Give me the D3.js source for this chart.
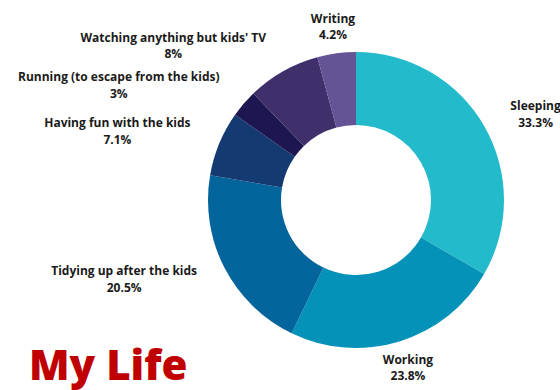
<!DOCTYPE html>
<html>
<head>
<meta charset="utf-8">
<script src="https://cdn.jsdelivr.net/npm/d3@7"></script>
<style>
  html, body { margin: 0; padding: 0; background: #fff; }
  svg { display: block; font-family: "Open Sans", sans-serif; }
</style>
</head>
<body>
<div id="main"></div>
<script>
const categories = [
  "Sleeping",
  "Working",
  "Tidying up after the kids",
  "Having fun with the kids",
  "Running (to escape from the kids)",
  "Watching anything but kids' TV",
  "Writing"
];
const values = [33.3, 23.8, 20.5, 7.1, 3, 8, 4.2];
const colors = ["#23bbcb", "#0592b8", "#04649c", "#143a72", "#1e1650", "#3f2f6b", "#655495"];
// label nudges away from the plain radial spot, to keep them apart like the original
const labelNudge = [[15, 5], [-4, -18], [-63, -12], [-63, 0], [-93, 5], [-89, 7], [2, 11]];

const width = 560;
const height = 390;
const cx = 356;
const cy = 200;
const outerR = 148;
const innerR = 75;
const labelR = 190;

const data = categories.map((c, i) => ({ name: c, value: values[i], color: colors[i], nudge: labelNudge[i] }));

const svg = d3.select("#main").append("svg").attr("width", width).attr("height", height);

const pie = d3.pie().value((d) => d.value).sort(null);
const arc = d3.arc().innerRadius(innerR).outerRadius(outerR);
const arcs = pie(data);

const g = svg.append("g").attr("transform", `translate(${cx}, ${cy})`);

g.selectAll("path")
  .data(arcs)
  .enter()
  .append("path")
  .attr("d", arc)
  .attr("fill", (d) => d.data.color);

const labels = g.selectAll("text.label")
  .data(arcs)
  .enter()
  .append("text")
  .attr("class", "label")
  .attr("text-anchor", "middle")
  .attr("font-size", 12)
  .attr("font-weight", 700)
  .attr("fill", "#1a1a1a")
  .attr("transform", (d) => {
    const a = (d.startAngle + d.endAngle) / 2;
    const x = labelR * Math.sin(a) + d.data.nudge[0];
    const y = -labelR * Math.cos(a) + d.data.nudge[1];
    return `translate(${x}, ${y})`;
  });

labels.append("tspan").attr("x", 0).attr("y", 0).text((d) => d.data.name);
labels.append("tspan").attr("x", 0).attr("y", 16.5).text((d) => `${d.data.value}%`);

svg.append("text")
  .attr("x", 29)
  .attr("y", 380)
  .attr("font-size", 42)
  .attr("font-weight", 800)
  .attr("fill", "#c00000")
  .text("My Life");
</script>
</body>
</html>
